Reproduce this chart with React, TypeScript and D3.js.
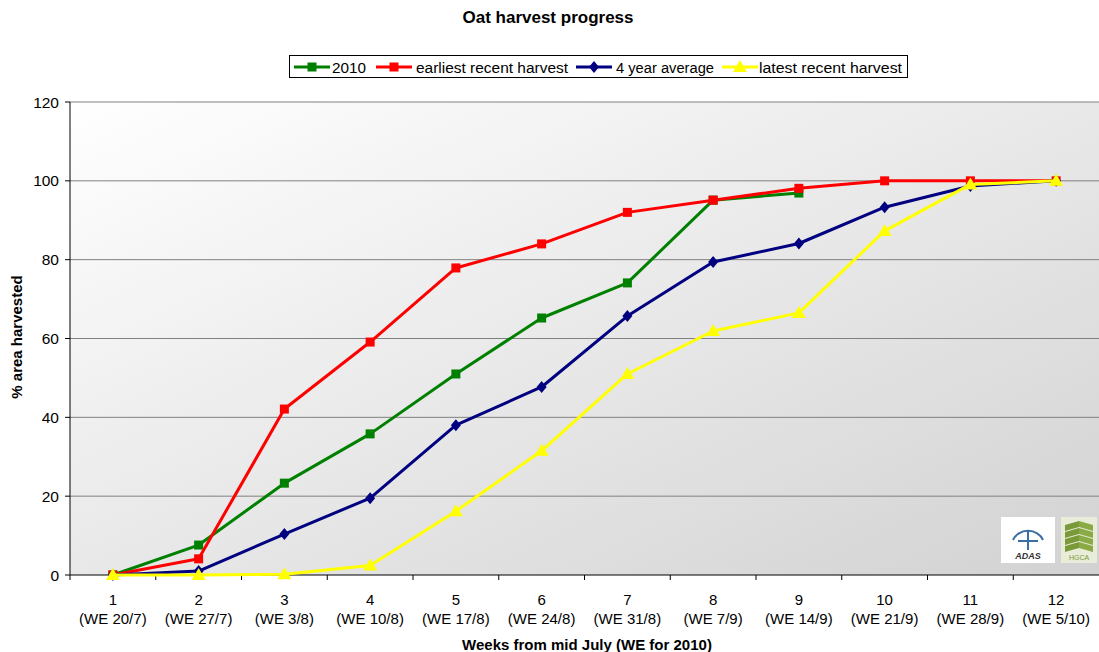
import React from "react";
import * as d3 from "d3";

const weeks = ["1", "2", "3", "4", "5", "6", "7", "8", "9", "10", "11", "12"];
const weekDates = ["(WE 20/7)", "(WE 27/7)", "(WE 3/8)", "(WE 10/8)", "(WE 17/8)", "(WE 24/8)", "(WE 31/8)", "(WE 7/9)", "(WE 14/9)", "(WE 21/9)", "(WE 28/9)", "(WE 5/10)"];
const yTicks = [0, 20, 40, 60, 80, 100, 120];

const series2010 = [0, 7.6, 23.3, 35.8, 51, 65.2, 74.1, 95.1, 96.9];
const seriesEarliest = [0, 4.1, 42.1, 59.1, 77.9, 84, 92, 95.1, 98.1, 100, 100, 100];
const seriesAverage = [0, 1, 10.4, 19.5, 38, 47.7, 65.7, 79.4, 84.1, 93.3, 98.7, 100];
const seriesLatest = [0, 0, 0.2, 2.4, 16.2, 31.5, 51, 61.9, 66.5, 87.3, 99.1, 100];

type S = { name: string; values: number[]; color: string; marker: "square" | "diamond" | "triangle" };
const seriesList: S[] = [
  { name: "2010", values: series2010, color: "#008000", marker: "square" },
  { name: "earliest recent harvest", values: seriesEarliest, color: "#ff0000", marker: "square" },
  { name: "4 year average", values: seriesAverage, color: "#000080", marker: "diamond" },
  { name: "latest recent harvest", values: seriesLatest, color: "#ffff00", marker: "triangle" },
];

const W = 1099, H = 652;
const left = 70, right = 1099, top = 102, bottom = 575;
const FONT = "'Liberation Sans', Arial, sans-serif";

function Marker({ type, x, y, color }: { type: string; x: number; y: number; color: string }) {
  if (type === "square") return <rect x={x - 4.5} y={y - 4.5} width={9} height={9} fill={color} />;
  if (type === "diamond") return <path d={`M${x},${y - 6}L${x + 5},${y}L${x},${y + 6}L${x - 5},${y}Z`} fill={color} />;
  return <path d={`M${x},${y - 7}L${x + 7},${y + 5}L${x - 7},${y + 5}Z`} fill={color} />;
}

export default function App() {
  const x = d3.scaleBand<string>().domain(weeks).range([left, right]);
  const y = d3.scaleLinear().domain([0, 120]).range([bottom, top]);
  const cx = (i: number) => (x(weeks[i]) as number) + x.bandwidth() / 2;
  const line = d3.line<number>().x((_, i) => cx(i)).y((d) => y(d));

  const legendItems = [
    { s: seriesList[0], x0: 294, tx: 332, tw: 34 },
    { s: seriesList[1], x0: 376, tx: 416, tw: 152 },
    { s: seriesList[2], x0: 576, tx: 616, tw: 98 },
    { s: seriesList[3], x0: 722, tx: 759, tw: 143 },
  ];

  return (
    <svg width={W} height={H} style={{ position: "absolute", left: 0, top: 0 }} fontFamily={FONT}>
      <defs>
        <linearGradient id="bg" x1="0" y1="0" x2="1" y2="1">
          <stop offset="0" stopColor="#ffffff" />
          <stop offset="1" stopColor="#d2d2d2" />
        </linearGradient>
      </defs>
      <rect x={0} y={0} width={W} height={H} fill="#fff" />
      <rect x={left} y={top} width={right - left} height={bottom - top} fill="url(#bg)" />
      {yTicks.map((t) => (
        <g key={t}>
          {t > 0 && <line x1={left} x2={right} y1={y(t)} y2={y(t)} stroke="#808080" strokeWidth={1} />}
          <line x1={left - 5} x2={left} y1={y(t)} y2={y(t)} stroke="#000" />
          <text x={59} y={y(t) + 5.5} textAnchor="end" fontSize={15.5}>{t}</text>
        </g>
      ))}
      <line x1={left} x2={left} y1={top} y2={bottom} stroke="#000" />
      <line x1={left} x2={right} y1={bottom} y2={bottom} stroke="#000" />
      {weeks.map((w, i) => (
        <g key={w}>
          <line x1={x(w) as number} x2={x(w) as number} y1={bottom} y2={bottom + 5} stroke="#000" />
          <text x={cx(i)} y={604.5} textAnchor="middle" fontSize={15}>{w}</text>
          <text x={cx(i)} y={623.5} textAnchor="middle" fontSize={15}>{weekDates[i]}</text>
        </g>
      ))}
      {/* logos */}
      <g>
        <rect x={1001} y={517} width={54} height={46} fill="#fff" />
        <path d="M1013,540 A16,14 0 0 1 1043,540" fill="none" stroke="#3a6ea5" strokeWidth={2} />
        <line x1={1028} x2={1028} y1={531} y2={550} stroke="#3a6ea5" strokeWidth={2} />
        <line x1={1018} x2={1038} y1={541} y2={541} stroke="#3a6ea5" strokeWidth={2} />
        <text x={1028} y={559} textAnchor="middle" fontSize={9} fontWeight="bold" fontStyle="italic" fill="#333">ADAS</text>
        <rect x={1061} y={517} width={36} height={46} fill="#e8ecd8" />
        {[0, 1, 2, 3].map((k) => (
          <g key={k}>
            <path d={`M1065,${525 + k * 7}L1079,${521 + k * 7}L1079,${527 + k * 7}L1065,${531 + k * 7}Z`} fill="#7a9a3a" />
            <path d={`M1093,${525 + k * 7}L1079,${521 + k * 7}L1079,${527 + k * 7}L1093,${531 + k * 7}Z`} fill="#8aaa45" />
          </g>
        ))}
        <text x={1079} y={560} textAnchor="middle" fontSize={7} fill="#7a9a3a">HGCA</text>
      </g>
      {seriesList.map((s) => (
        <g key={s.name}>
          <path d={line(s.values) as string} fill="none" stroke={s.color} strokeWidth={3} strokeLinejoin="round" />
          {s.values.map((v, i) => (
            <Marker key={i} type={s.marker} x={cx(i)} y={y(v)} color={s.color} />
          ))}
        </g>
      ))}
      <text x={548} y={23} textAnchor="middle" fontSize={17} fontWeight="bold">Oat harvest progress</text>
      <rect x={289.5} y={55.5} width={618} height={22} fill="#fff" stroke="#000" />
      {legendItems.map(({ s, x0, tx, tw }) => (
        <g key={s.name}>
          <line x1={x0} x2={x0 + 36} y1={67} y2={67} stroke={s.color} strokeWidth={3} />
          <Marker type={s.marker} x={x0 + 18} y={67} color={s.color} />
          <text x={tx} y={72.5} fontSize={15.5} textLength={tw} lengthAdjust="spacingAndGlyphs">{s.name}</text>
        </g>
      ))}
      <text transform={`translate(22,337) rotate(-90)`} textAnchor="middle" fontSize={15} fontWeight="bold">% area harvested</text>
      <text x={587} y={650} textAnchor="middle" fontSize={15} fontWeight="bold">Weeks from mid July (WE for 2010)</text>
    </svg>
  );
}
